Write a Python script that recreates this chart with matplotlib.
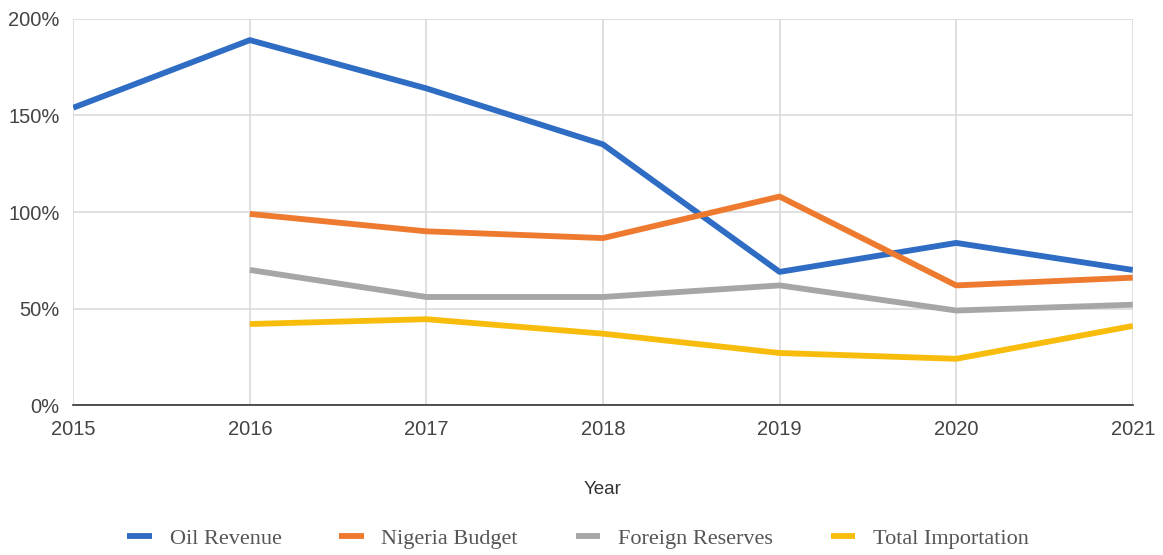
import matplotlib.pyplot as plt
from matplotlib.ticker import PercentFormatter

# data (percent)
years = [2015, 2016, 2017, 2018, 2019, 2020, 2021]
oil_revenue = [154, 189, 164, 135, 69, 84, 70]
budget_years = [2016, 2017, 2018, 2019, 2020, 2021]
nigeria_budget = [99, 90, 86.5, 108, 62, 66]
foreign_reserves = [70, 56, 56, 62, 49, 52]
total_importation = [42, 44.5, 37, 27, 24, 41]

fig = plt.figure(figsize=(11.63, 5.55), dpi=100)
ax = fig.add_axes([0.063, 0.27, 0.911, 0.696])

lw = 4.2
ax.plot(years, oil_revenue, color='#2F6CC4', lw=lw, label='Oil Revenue', solid_capstyle='butt')
ax.plot(budget_years, nigeria_budget, color='#EE7A30', lw=lw, label='Nigeria Budget', solid_capstyle='butt')
ax.plot(budget_years, foreign_reserves, color='#A6A6A6', lw=lw, label='Foreign Reserves', solid_capstyle='butt')
ax.plot(budget_years, total_importation, color='#F8BD0C', lw=lw, label='Total Importation', solid_capstyle='butt')

ax.set_xlim(2015, 2021)
ax.set_ylim(0, 200)
ax.set_xticks(years)
ax.set_yticks([0, 50, 100, 150, 200])
ax.yaxis.set_major_formatter(PercentFormatter(decimals=0))
ax.grid(True, color='#DADADA', lw=1.2)
ax.set_axisbelow(True)

for s in ['top', 'right', 'left']:
    ax.spines[s].set_visible(False)
ax.spines['bottom'].set_color('#333333')
ax.spines['bottom'].set_linewidth(1.2)
ax.tick_params(length=0, labelsize=14.5, colors='#444444')
ax.tick_params(axis='y', pad=10)
ax.tick_params(axis='x', pad=11)
for lab in ax.get_xticklabels() + ax.get_yticklabels():
    lab.set_fontfamily('Liberation Sans')

ax.set_xlabel('Year', fontsize=13.5, color='#333333', fontfamily='Liberation Sans', labelpad=30)

fig.legend(loc='center', bbox_to_anchor=(0.497, 0.03), ncol=4, frameon=False,
           prop={'family': 'Liberation Serif', 'size': 16},
           handlelength=1.1, handletextpad=0.8, columnspacing=2.6, labelcolor='#555555')

plt.savefig('out.png')
